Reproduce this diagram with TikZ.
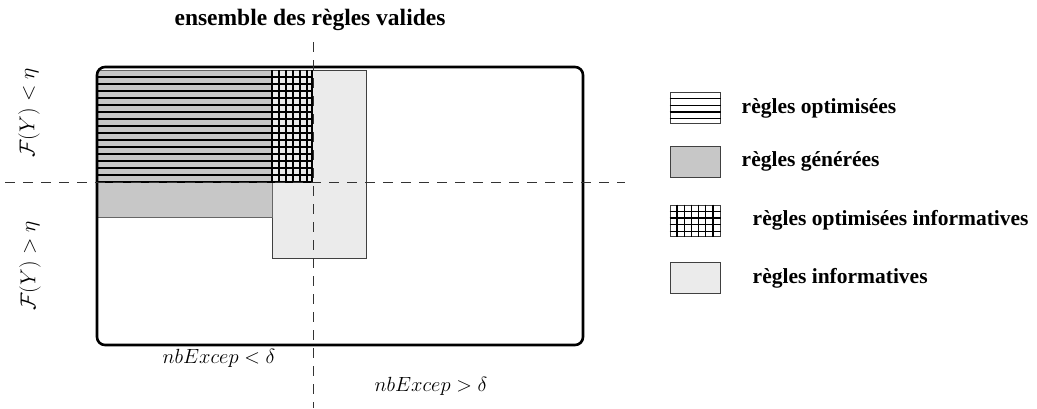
\RequirePackage{fix-cm}
\documentclass[tikz,border=0pt]{standalone}
\usepackage{fontspec}
\setmainfont{Liberation Serif}
\usetikzlibrary{positioning}
\tikzset{
	legbox/.style={draw=black!75,line width=1pt,minimum width=50pt,minimum height=31pt,inner sep=0pt},
	legtext/.style={font=\fontsize{21.5}{26}\selectfont\bfseries,anchor=west,inner sep=0pt},
	cutline/.style={dash pattern=on 10pt off 8pt,line width=1pt,black!80},
	hatch/.style={line width=1.3pt},
	mathlbl/.style={font=\fontsize{20.5}{24}\selectfont,inner sep=0pt}
}
\begin{document}
\begin{tikzpicture}[x=1pt,y=-1pt]
	\useasboundingbox (0,0) rectangle (1037,408);
	% title
	\node[font=\fontsize{23.5}{28}\selectfont\bfseries] (title) at (310,20) {ensemble des règles valides};
	% regions
	\draw[black!75,fill=black!8] (272,70) rectangle (366,258);
	\draw[black!60,fill=black!22] (97,70) rectangle (272,217);
	\foreach \y in {77,84,...,182}
	{\draw[hatch] (97,\y)--(312,\y);}
	\foreach \x in {272,279,...,307,312}
	{\draw[hatch] (\x,70)--(\x,182);}
	\draw[line width=2.6pt,rounded corners=8pt] (97,67) rectangle (583,345);
	% axes
	\draw[cutline] (313,42)--(313,408);
	\draw[cutline] (5,182)--(625,182);
	% labels
	\node[mathlbl,rotate=90,font=\fontsize{21.5}{25}\selectfont] (fl) at (29,113) {$\mathcal{F}(Y) < \eta$};
	\node[mathlbl,rotate=90,font=\fontsize{21.5}{25}\selectfont] (fg) at (30,266) {$\mathcal{F}(Y) > \eta$};
	\node[mathlbl] (nl) at (219,358) {$nbExcep < \delta$};
	\node[mathlbl] (ng) at (431,386) {$nbExcep > \delta$};
	% legend
	\node[legbox,fill=white] (opt) at (695,108) {};
	\foreach \y in {-9.3,-2.6,4.1,10.8}
	{\draw[hatch] ([yshift=-\y pt]opt.west)--([yshift=-\y pt]opt.east);}
	\node[legbox,fill=black!22] (gen) at (695,161.5) {};
	\node[legbox,fill=white] (optinf) at (695,220.5) {};
	\foreach \y in {-9.3,-2.6,4.1,10.8}
	{\draw[hatch] ([yshift=-\y pt]optinf.west)--([yshift=-\y pt]optinf.east);}
	\foreach \x in {-17.9,-10.7,-3.6,3.6,10.7,17.9}
	{\draw[hatch] ([xshift=\x pt]optinf.north)--([xshift=\x pt]optinf.south);}
	\node[legbox,fill=black!8] (inf) at (695,278) {};
	\node[legtext,right=21pt of opt] {règles optimisées};
	\node[legtext,right=21pt of gen] {règles générées};
	\node[legtext,right=32pt of optinf] {règles optimisées informatives};
	\node[legtext,right=32pt of inf] {règles informatives};
\end{tikzpicture}
\end{document}
